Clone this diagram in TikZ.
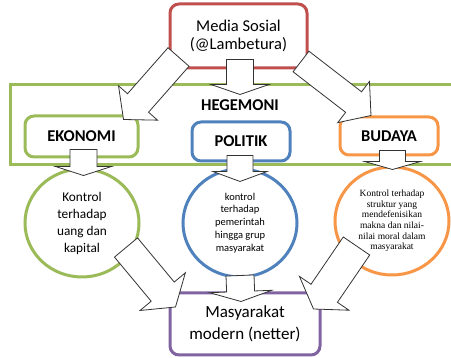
\documentclass[tikz,border=0pt]{standalone}
\usepackage{fontspec}
\setmainfont{Carlito}
\newfontfamily\serifsmall{Liberation Serif}
\usepackage{tikz}
\usetikzlibrary{calc}
\usetikzlibrary{shapes.geometric}

\definecolor{medred}{HTML}{C0504D}
\definecolor{hegreen}{HTML}{9BBB59}
\definecolor{polblue}{HTML}{4F81BD}
\definecolor{budorange}{HTML}{F79646}
\definecolor{netpurple}{HTML}{8064A2}

\tikzset{
  roundbox/.style={draw, line width=3pt, rounded corners=9pt, fill=white, align=center, inner sep=0pt},
  ringnode/.style={ellipse, draw, line width=3pt, fill=white, minimum width=114pt, minimum height=108pt, inner sep=0pt, align=center},
  blockarrow/.style={draw=black!80, line width=0.8pt, fill=white, line join=miter},
  boldlabel/.style={font=\bfseries\fontsize{16.5}{18}\selectfont}
}

% start, tip, shaft half width, head half width, head length
\newcommand{\blockarr}[5]{%
  \coordinate (ba-s) at (#1);
  \coordinate (ba-t) at (#2);
  \coordinate (ba-b) at ($(ba-t)!#5!(ba-s)$);
  \draw[blockarrow] ($(ba-s)!#3!90:(ba-t)$) -- ($(ba-b)!#3!90:(ba-t)$)
    -- ($(ba-b)!#4!90:(ba-t)$) -- (ba-t) -- ($(ba-b)!#4!-90:(ba-t)$)
    -- ($(ba-b)!#3!-90:(ba-t)$) -- ($(ba-s)!#3!-90:(ba-t)$) -- cycle;
}

\begin{document}
\begin{tikzpicture}[x=1pt, y=-1pt]
\useasboundingbox (0,0) rectangle (451,358);
\clip (0,0) rectangle (451,358);

% hegemoni frame
\draw[hegreen, line width=3pt] (10,85) rectangle (470,165);
\node[boldlabel] (hegemoni) at (240,105.5) {HEGEMONI};

\node[roundbox, draw=medred, minimum width=137pt, minimum height=64pt,
  font=\fontsize{16.5}{18.3}\selectfont] (media) at (238.5,36) {Media Sosial\\(@Lambetura)};

\node[roundbox, boldlabel, draw=hegreen, minimum width=113pt, minimum height=41pt] (ekonomi) at (81.5,136.5) {EKONOMI};
\node[roundbox, boldlabel, draw=polblue, minimum width=98pt, minimum height=39pt] (politik) at (241,141.5) {POLITIK};
\node[roundbox, boldlabel, draw=budorange, minimum width=98pt, minimum height=38pt] (budaya) at (389,136) {BUDAYA};

\node[ringnode, draw=hegreen, font=\fontsize{13.3}{17}\selectfont] (ekring) at (82,223)
  {Kontrol\\terhadap\\uang dan\\kapital};
\node[ringnode, draw=polblue, font=\fontsize{10.5}{12.8}\selectfont] (polring) at (240,223)
  {kontrol\\terhadap\\pemerintah\\hingga grup\\masyarakat};
\node[ringnode, draw=budorange, font=\serifsmall\fontsize{9.5}{10.6}\selectfont] (budring) at (392,221)
  {Kontrol terhadap\\struktur yang\\mendefenisikan\\makna dan nilai-\\nilai moral dalam\\masyarakat};

\node[roundbox, draw=netpurple, minimum width=150pt, minimum height=62pt,
  font=\fontsize{17}{22.5}\selectfont] (netter) at (245,324) {Masyarakat\\modern (netter)};

% block arrows
\blockarr{[shift={(10,-12.5)}]media.south west}{[shift={(-16,5)}]ekonomi.north east}{14pt}{26pt}{22pt}
\blockarr{[shift={(-7.5,-8)}]media.south east}{[shift={(-18,0)}]budaya.north}{13pt}{26pt}{22pt}
\blockarr{[shift={(1.5,-10)}]media.south}{[shift={(0,-2)}]hegemoni.north}{13.5pt}{29pt}{10pt}
\blockarr{[shift={(2,-9)}]ekonomi.south}{[shift={(1.5,8)}]ekring.north}{13.5pt}{28pt}{9pt}
\blockarr{[shift={(-1,-7)}]politik.south}{[shift={(0,14)}]polring.north}{13pt}{27pt}{10pt}
\blockarr{[shift={(3.5,-6)}]budaya.south}{[shift={(0.5,4)}]budring.north}{13pt}{28pt}{8pt}
\blockarr{[shift={(44,24.5)}]ekring.center}{[shift={(7,-17)}]netter.west}{15pt}{29.5pt}{20pt}
\blockarr{[shift={(0,-3)}]polring.south}{[shift={(-4,10)}]netter.north}{14pt}{31pt}{10pt}
\blockarr{[shift={(-35.5,25)}]budring.center}{[shift={(-8,-15)}]netter.east}{16pt}{30pt}{19pt}
\end{tikzpicture}
\end{document}
